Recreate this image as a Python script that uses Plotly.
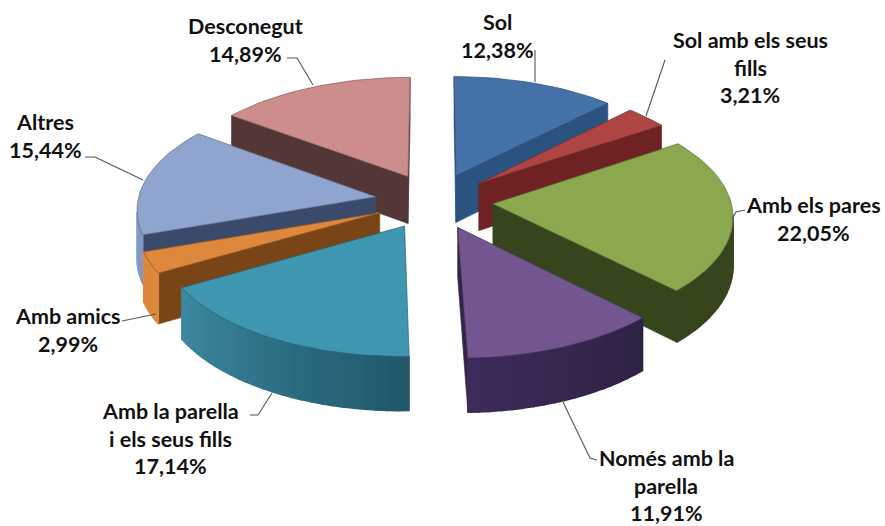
import math
import plotly.graph_objects as go

categories = ["Sol", "Sol amb els seus fills", "Amb els pares", "Només amb la parella",
              "Amb la parella i els seus fills", "Amb amics", "Altres", "Desconegut"]
values = [12.38, 3.21, 22.05, 11.91, 17.14, 2.99, 15.44, 14.89]
label_lines = [["Sol", "12,38%"], ["Sol amb els seus", "fills", "3,21%"], ["Amb els pares", "22,05%"],
               ["Només amb la", "parella", "11,91%"], ["Amb la parella", "i els seus fills", "17,14%"],
               ["Amb amics", "2,99%"], ["Altres", "15,44%"], ["Desconegut", "14,89%"]]
label_pos = [(497, 22), (750, 40), (813, 205), (666, 458), (170, 411), (68, 316), (45, 122), (245, 26)]
top_colors = ["#4472A8", "#AE4543", "#8BA84F", "#73558F", "#3E96B0", "#DD883C", "#8FA5CF", "#CD8D8C"]
wall_colors = ["#2B5380", "#6E2224", "#36451C", "#33254A", "#2F7288", "#7A4516", "#3A4A6A", "#533635"]
outer_from = ["#2B5380", "#6E2224", "#36451C", "#2E2244", "#21586A", "#DD883C", "#8198C2", "#533635"]
outer_to = ["#3A6496", "#7A2A2A", "#36451C", "#3E2C5C", "#3C8AA3", "#DD883C", "#7F95BD", "#533635"]
leaders = [[(535, 50), (535, 82)], [(665, 60), (646, 116)], [(745, 210), (736, 212), (732, 219)],
           [(562, 400), (590, 458), (597, 460)], [(272, 393), (258, 415), (250, 415)],
           [(122, 321), (156, 314)], [(85, 157), (95, 157), (143, 180)], [(287, 58), (297, 58), (313, 85)]]

CX, CY, A, B, P, EXPLODE, DEPTH = 434, 201, 238, 113, 0.095, 0.248, 48


def project(x, y, z=0.0):
    s = 1 / (1 + P * y)
    return CX + A * x * s, CY - B * y * s + z * DEPTH * s


def area(poly):
    return sum(poly[i][0] * poly[(i + 1) % len(poly)][1] - poly[(i + 1) % len(poly)][0] * poly[i][1]
               for i in range(len(poly)))


def mix(c1, c2, t):
    a = [int(c1[i:i + 2], 16) for i in (1, 3, 5)]
    b = [int(c2[i:i + 2], 16) for i in (1, 3, 5)]
    return "#%02x%02x%02x" % tuple(round(p + (q - p) * t) for p, q in zip(a, b))


def add_poly(fig, poly, color, line=None, width=0.6):
    fig.add_trace(go.Scatter(
        x=[p[0] for p in poly] + [poly[0][0]], y=[p[1] for p in poly] + [poly[0][1]],
        mode="lines", fill="toself", fillcolor=color,
        line=dict(color=line or color, width=width), hoverinfo="skip", showlegend=False))


total = sum(values)
slices = []
acc = 0.0
for i, v in enumerate(values):
    a0 = acc / total * 2 * math.pi
    acc += v
    a1 = acc / total * 2 * math.pi
    m = (a0 + a1) / 2
    slices.append((EXPLODE * math.cos(m), i, a0, a1, m))

fig = go.Figure()
for _, i, a0, a1, m in sorted(slices, key=lambda s: -s[0]):
    ox, oy = EXPLODE * math.sin(m), EXPLODE * math.cos(m)
    n = max(4, int((a1 - a0) / 0.04))
    rim = [(ox + math.sin(a0 + (a1 - a0) * k / n), oy + math.cos(a0 + (a1 - a0) * k / n)) for k in range(n + 1)]
    # radial walls: only the faces turned towards the viewer
    for is_end, edge in ((False, rim[0]), (True, rim[-1])):
        q = [project(ox, oy), project(*edge), project(*edge, 1), project(ox, oy, 1)]
        if (area(q) > 0) != is_end:
            continue
        add_poly(fig, q, wall_colors[i])
    # outer wall strips
    for k in range(n):
        q = [project(*rim[k]), project(*rim[k + 1]), project(*rim[k + 1], 1), project(*rim[k], 1)]
        if area(q) > 0:
            continue
        add_poly(fig, q, mix(outer_from[i], outer_to[i], k / n), width=1.4)
    # top face
    top = [project(ox, oy)] + [project(*p) for p in rim]
    add_poly(fig, top, top_colors[i], line=mix(top_colors[i], "#000000", 0.35), width=0.7)

shapes = []
for pts in leaders:
    path = "M " + " L ".join(f"{x} {y}" for x, y in pts)
    shapes.append(dict(type="path", path=path, line=dict(color="#555555", width=1.1), xref="x", yref="y"))

annotations = []
for lines, (lx, ly) in zip(label_lines, label_pos):
    for j, txt in enumerate(lines):
        annotations.append(dict(x=lx, y=ly + j * 27.5, text=f"<b>{txt}</b>", showarrow=False,
                                xanchor="center", yanchor="middle",
                                font=dict(family="Lato", size=21.5, color="#111111")))

fig.update_layout(
    width=885, height=526, margin=dict(l=0, r=0, t=0, b=0), autosize=False,
    paper_bgcolor="white", plot_bgcolor="white", showlegend=False,
    xaxis=dict(range=[0, 885], visible=False, fixedrange=True),
    yaxis=dict(range=[526, 0], visible=False, fixedrange=True),
    shapes=shapes, annotations=annotations)
fig.write_html("out.html", post_script="document.body.style.margin='0';document.body.style.overflow='hidden';",
               config=dict(displayModeBar=False))
